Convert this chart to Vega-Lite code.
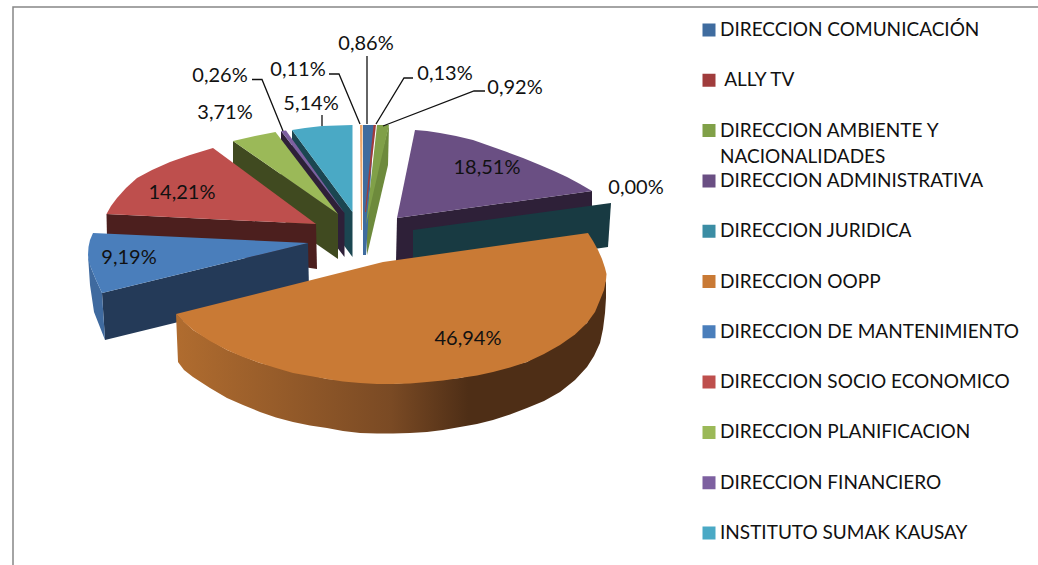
{
"$schema":"https://vega.github.io/schema/vega-lite/v6.json",
"width":1038,"height":565,"padding":0,"autosize":{"type":"none"},
"background":"white",
"config":{"view":{"stroke":null},"font":"Lato"},
"datasets":{
"walls":[
{"s":"w-sumak","i":1,"x":292,"y":130},{"s":"w-sumak","i":2,"x":352.5,"y":212},{"s":"w-sumak","i":3,"x":352.5,"y":257},{"s":"w-sumak","i":4,"x":292,"y":175},
{"s":"w-fin","i":1,"x":281,"y":131},{"s":"w-fin","i":2,"x":344.5,"y":213},{"s":"w-fin","i":3,"x":344.5,"y":257},{"s":"w-fin","i":4,"x":281,"y":175},
{"s":"w-plan","i":1,"x":233,"y":141},{"s":"w-plan","i":2,"x":338,"y":214},{"s":"w-plan","i":3,"x":338,"y":259},{"s":"w-plan","i":4,"x":233,"y":186},
{"s":"w-socio","i":1,"x":106.5,"y":214},{"s":"w-socio","i":2,"x":316,"y":224},{"s":"w-socio","i":3,"x":317,"y":269},{"s":"w-socio","i":4,"x":107,"y":238},
{"s":"w-mant","i":1,"x":102,"y":293},{"s":"w-mant","i":2,"x":308,"y":243},{"s":"w-mant","i":3,"x":309,"y":290},{"s":"w-mant","i":4,"x":105,"y":340},
{"s":"w-mant2","i":1,"x":88,"y":255},{"s":"w-mant2","i":2,"x":91,"y":268},{"s":"w-mant2","i":3,"x":96,"y":280},{"s":"w-mant2","i":4,"x":102,"y":293},{"s":"w-mant2","i":5,"x":105,"y":340},{"s":"w-mant2","i":6,"x":94,"y":312},{"s":"w-mant2","i":7,"x":90,"y":285},
{"s":"w-admin","i":1,"x":397,"y":218},{"s":"w-admin","i":2,"x":592,"y":191},{"s":"w-admin","i":3,"x":592,"y":236},{"s":"w-admin","i":4,"x":396,"y":262},
{"s":"w-jur","i":1,"x":413,"y":230},{"s":"w-jur","i":2,"x":611,"y":203},{"s":"w-jur","i":3,"x":608,"y":247},{"s":"w-jur","i":4,"x":413,"y":275},
{"s":"w-amb","i":1,"x":389,"y":125},{"s":"w-amb","i":2,"x":388,"y":165},{"s":"w-amb","i":3,"x":367,"y":255},{"s":"w-amb","i":4,"x":366,"y":213},
{"s":"w-otro","i":1,"x":360,"y":125},{"s":"w-otro","i":2,"x":362.5,"y":125},{"s":"w-otro","i":3,"x":362,"y":230},{"s":"w-otro","i":4,"x":361,"y":230}
],
"orangeWall":[
{"i":1,"x":176,"y":314},{"i":2,"x":193,"y":330},{"i":3,"x":227,"y":350},{"i":4,"x":260,"y":363},{"i":5,"x":327,"y":379},{"i":6,"x":393,"y":384},{"i":7,"x":460,"y":378},{"i":8,"x":527,"y":362},{"i":9,"x":587,"y":323},{"i":10,"x":606,"y":280},
{"i":11,"x":606,"y":298},{"i":12,"x":605,"y":313},{"i":13,"x":603,"y":329},{"i":14,"x":600,"y":343},{"i":15,"x":594,"y":356},{"i":16,"x":587,"y":367},{"i":17,"x":575,"y":380},{"i":18,"x":560,"y":392},{"i":19,"x":544,"y":401},{"i":20,"x":527,"y":408},{"i":21,"x":510,"y":414.5},{"i":22,"x":493,"y":420},{"i":23,"x":477,"y":424},{"i":24,"x":460,"y":427},{"i":25,"x":443,"y":430},{"i":26,"x":427,"y":432},{"i":27,"x":410,"y":433},{"i":28,"x":393,"y":433.5},{"i":29,"x":377,"y":433.5},{"i":30,"x":360,"y":433},{"i":31,"x":343,"y":431},{"i":32,"x":327,"y":428},{"i":33,"x":310,"y":425.5},{"i":34,"x":293,"y":422},{"i":35,"x":276,"y":417.5},{"i":36,"x":260,"y":412},{"i":37,"x":243,"y":405},{"i":38,"x":227,"y":398},{"i":39,"x":210,"y":388},{"i":40,"x":193,"y":377},{"i":41,"x":184,"y":370},{"i":42,"x":178,"y":362}
],
"tops":[
{"s":"INSTITUTO SUMAK KAUSAY","i":1,"x":292,"y":130},{"s":"INSTITUTO SUMAK KAUSAY","i":2,"x":305,"y":128},{"s":"INSTITUTO SUMAK KAUSAY","i":3,"x":322,"y":126},{"s":"INSTITUTO SUMAK KAUSAY","i":4,"x":352.5,"y":125},{"s":"INSTITUTO SUMAK KAUSAY","i":5,"x":352.5,"y":212},
{"s":"DIRECCION FINANCIERO","i":1,"x":281,"y":131},{"s":"DIRECCION FINANCIERO","i":2,"x":286,"y":130.5},{"s":"DIRECCION FINANCIERO","i":3,"x":344.5,"y":213},
{"s":"DIRECCION PLANIFICACION","i":1,"x":233,"y":141},{"s":"DIRECCION PLANIFICACION","i":2,"x":255,"y":136},{"s":"DIRECCION PLANIFICACION","i":3,"x":275.5,"y":132},{"s":"DIRECCION PLANIFICACION","i":4,"x":338,"y":214},
{"s":"DIRECCION SOCIO ECONOMICO","i":1,"x":106.5,"y":214},{"s":"DIRECCION SOCIO ECONOMICO","i":2,"x":111,"y":206},{"s":"DIRECCION SOCIO ECONOMICO","i":3,"x":117,"y":198},{"s":"DIRECCION SOCIO ECONOMICO","i":4,"x":126,"y":188},{"s":"DIRECCION SOCIO ECONOMICO","i":5,"x":137,"y":178},{"s":"DIRECCION SOCIO ECONOMICO","i":6,"x":152,"y":170},{"s":"DIRECCION SOCIO ECONOMICO","i":7,"x":170,"y":162},{"s":"DIRECCION SOCIO ECONOMICO","i":8,"x":190,"y":155},{"s":"DIRECCION SOCIO ECONOMICO","i":9,"x":213,"y":148},{"s":"DIRECCION SOCIO ECONOMICO","i":10,"x":316,"y":224},
{"s":"DIRECCION DE MANTENIMIENTO","i":1,"x":93,"y":233},{"s":"DIRECCION DE MANTENIMIENTO","i":2,"x":90,"y":240},{"s":"DIRECCION DE MANTENIMIENTO","i":3,"x":88.5,"y":247},{"s":"DIRECCION DE MANTENIMIENTO","i":4,"x":88,"y":255},{"s":"DIRECCION DE MANTENIMIENTO","i":5,"x":89,"y":262},{"s":"DIRECCION DE MANTENIMIENTO","i":6,"x":91,"y":268},{"s":"DIRECCION DE MANTENIMIENTO","i":7,"x":96,"y":280},{"s":"DIRECCION DE MANTENIMIENTO","i":8,"x":102,"y":293},{"s":"DIRECCION DE MANTENIMIENTO","i":9,"x":308,"y":243},
{"s":"DIRECCION ADMINISTRATIVA","i":1,"x":415,"y":130},{"s":"DIRECCION ADMINISTRATIVA","i":2,"x":427,"y":131},{"s":"DIRECCION ADMINISTRATIVA","i":3,"x":440,"y":133},{"s":"DIRECCION ADMINISTRATIVA","i":4,"x":456,"y":136},{"s":"DIRECCION ADMINISTRATIVA","i":5,"x":473,"y":140},{"s":"DIRECCION ADMINISTRATIVA","i":6,"x":490,"y":146},{"s":"DIRECCION ADMINISTRATIVA","i":7,"x":507,"y":152},{"s":"DIRECCION ADMINISTRATIVA","i":8,"x":523,"y":158},{"s":"DIRECCION ADMINISTRATIVA","i":9,"x":540,"y":165},{"s":"DIRECCION ADMINISTRATIVA","i":10,"x":554,"y":171},{"s":"DIRECCION ADMINISTRATIVA","i":11,"x":567,"y":177},{"s":"DIRECCION ADMINISTRATIVA","i":12,"x":580,"y":184},{"s":"DIRECCION ADMINISTRATIVA","i":13,"x":592,"y":191},{"s":"DIRECCION ADMINISTRATIVA","i":14,"x":397,"y":218},
{"s":"DIRECCION OOPP","i":1,"x":176,"y":314},{"s":"DIRECCION OOPP","i":2,"x":383,"y":262},{"s":"DIRECCION OOPP","i":3,"x":588,"y":233},{"s":"DIRECCION OOPP","i":4,"x":593,"y":241},{"s":"DIRECCION OOPP","i":5,"x":598,"y":250},{"s":"DIRECCION OOPP","i":6,"x":602,"y":259},{"s":"DIRECCION OOPP","i":7,"x":605,"y":268},{"s":"DIRECCION OOPP","i":8,"x":606.5,"y":274},{"s":"DIRECCION OOPP","i":9,"x":606,"y":280},{"s":"DIRECCION OOPP","i":10,"x":604,"y":290},{"s":"DIRECCION OOPP","i":11,"x":600,"y":300},{"s":"DIRECCION OOPP","i":12,"x":595,"y":312},{"s":"DIRECCION OOPP","i":13,"x":587,"y":323},{"s":"DIRECCION OOPP","i":14,"x":575,"y":334.5},{"s":"DIRECCION OOPP","i":15,"x":560,"y":345},{"s":"DIRECCION OOPP","i":16,"x":544,"y":354},{"s":"DIRECCION OOPP","i":17,"x":527,"y":362},{"s":"DIRECCION OOPP","i":18,"x":510,"y":367.5},{"s":"DIRECCION OOPP","i":19,"x":493,"y":372},{"s":"DIRECCION OOPP","i":20,"x":477,"y":375.5},{"s":"DIRECCION OOPP","i":21,"x":460,"y":378},{"s":"DIRECCION OOPP","i":22,"x":443,"y":380.5},{"s":"DIRECCION OOPP","i":23,"x":427,"y":382},{"s":"DIRECCION OOPP","i":24,"x":410,"y":383.5},{"s":"DIRECCION OOPP","i":25,"x":393,"y":384},{"s":"DIRECCION OOPP","i":26,"x":377,"y":384},{"s":"DIRECCION OOPP","i":27,"x":360,"y":383},{"s":"DIRECCION OOPP","i":28,"x":343,"y":381.5},{"s":"DIRECCION OOPP","i":29,"x":327,"y":379},{"s":"DIRECCION OOPP","i":30,"x":310,"y":376},{"s":"DIRECCION OOPP","i":31,"x":293,"y":373},{"s":"DIRECCION OOPP","i":32,"x":276,"y":368},{"s":"DIRECCION OOPP","i":33,"x":260,"y":363},{"s":"DIRECCION OOPP","i":34,"x":243,"y":357},{"s":"DIRECCION OOPP","i":35,"x":227,"y":350},{"s":"DIRECCION OOPP","i":36,"x":210,"y":341},{"s":"DIRECCION OOPP","i":37,"x":193,"y":330},{"s":"DIRECCION OOPP","i":38,"x":184,"y":322},
{"s":"DIRECCION COMUNICACIÓN","i":1,"x":363,"y":125},{"s":"DIRECCION COMUNICACIÓN","i":2,"x":374,"y":125},{"s":"DIRECCION COMUNICACIÓN","i":3,"x":366,"y":255},{"s":"DIRECCION COMUNICACIÓN","i":4,"x":363,"y":255},
{"s":"\u200b\u00a0ALLY TV","i":1,"x":373.5,"y":125},{"s":"\u200b\u00a0ALLY TV","i":2,"x":376,"y":125},{"s":"\u200b\u00a0ALLY TV","i":3,"x":366,"y":212},{"s":"\u200b\u00a0ALLY TV","i":4,"x":365,"y":212},
{"s":"DIRECCION AMBIENTE Y NACIONALIDADES","i":1,"x":377,"y":125},{"s":"DIRECCION AMBIENTE Y NACIONALIDADES","i":2,"x":389,"y":125},{"s":"DIRECCION AMBIENTE Y NACIONALIDADES","i":3,"x":366,"y":225}
],
"leaders":[
{"l":"0,26","i":1,"x":252,"y":79.5},{"l":"0,26","i":2,"x":262,"y":79.5},{"l":"0,26","i":3,"x":283,"y":131},
{"l":"0,11","i":1,"x":329,"y":74},{"l":"0,11","i":2,"x":339,"y":74},{"l":"0,11","i":3,"x":360,"y":124},
{"l":"0,86","i":1,"x":367,"y":56},{"l":"0,86","i":2,"x":367,"y":124},
{"l":"0,13","i":1,"x":413,"y":78},{"l":"0,13","i":2,"x":404,"y":78},{"l":"0,13","i":3,"x":376,"y":124},
{"l":"0,92","i":1,"x":485,"y":91},{"l":"0,92","i":2,"x":474,"y":91},{"l":"0,92","i":3,"x":383,"y":126},
{"l":"5,14","i":1,"x":322,"y":115},{"l":"5,14","i":2,"x":322,"y":126}
],
"frame":[{"i":1,"x":13,"y":565},{"i":2,"x":13,"y":7},{"i":3,"x":1038,"y":7}],
"labels":[
{"t":"0,86%","x":366,"y":43.5},{"t":"0,11%","x":298,"y":69.5},{"t":"0,26%","x":220,"y":75.5},{"t":"3,71%","x":225,"y":112.5},{"t":"5,14%","x":311,"y":103.5},{"t":"0,13%","x":445,"y":73.5},{"t":"0,92%","x":515,"y":87.5},{"t":"18,51%","x":487,"y":167.5},{"t":"0,00%","x":636,"y":187.5},{"t":"14,21%","x":182,"y":192.5},{"t":"9,19%","x":129,"y":257.5},{"t":"46,94%","x":468,"y":338.5}
],
"legendText":[{"t":"NACIONALIDADES","x":720,"y":157}]
},
"layer":[
{"data":{"name":"frame"},"mark":{"type":"line","stroke":"#868686","strokeWidth":1.5},
 "encoding":{"x":{"field":"x","type":"quantitative","axis":null,"scale":{"domain":[0,1038],"nice":false,"zero":false}},
 "y":{"field":"y","type":"quantitative","axis":null,"scale":{"domain":[0,565],"reverse":true,"nice":false,"zero":false}},"order":{"field":"i"}}},
{"data":{"name":"walls"},"mark":{"type":"line","filled":true,"strokeWidth":0,"interpolate":"linear-closed"},
 "encoding":{"x":{"field":"x","type":"quantitative"},"y":{"field":"y","type":"quantitative"},"order":{"field":"i"},"detail":{"field":"s"},
 "fill":{"field":"s","type":"nominal"}}},
{"data":{"name":"orangeWall"},"mark":{"type":"line","filled":true,"strokeWidth":0,"interpolate":"linear-closed",
 "fill":{"x1":0,"y1":0,"x2":1,"y2":0,"gradient":"linear","stops":[{"offset":0,"color":"#B06C2F"},{"offset":0.5,"color":"#7A4A24"},{"offset":0.68,"color":"#4E2E16"},{"offset":1,"color":"#4E2E16"}]}},
 "encoding":{"x":{"field":"x","type":"quantitative"},"y":{"field":"y","type":"quantitative"},"order":{"field":"i"}}},
{"data":{"name":"tops"},"mark":{"type":"line","filled":true,"strokeWidth":0,"interpolate":"linear-closed"},
 "encoding":{"x":{"field":"x","type":"quantitative"},"y":{"field":"y","type":"quantitative"},"order":{"field":"i"},"detail":{"field":"s"},
 "fill":{"field":"s","type":"nominal","title":null,
  "scale":{"domain":["DIRECCION COMUNICACIÓN","\u200b\u00a0ALLY TV","DIRECCION AMBIENTE Y NACIONALIDADES","DIRECCION ADMINISTRATIVA","DIRECCION JURIDICA","DIRECCION OOPP","DIRECCION DE MANTENIMIENTO","DIRECCION SOCIO ECONOMICO","DIRECCION PLANIFICACION","DIRECCION FINANCIERO","INSTITUTO SUMAK KAUSAY","w-sumak","w-fin","w-plan","w-socio","w-mant","w-mant2","w-admin","w-jur","w-amb","w-otro"],
   "range":["#3F6C9F","#A03C3C","#80A048","#6A4F83","#3B8DA4","#C97A35","#4A7EBB","#BE4F4D","#9BB958","#7D60A0","#4AA9C5","#1B4651","#2E2038","#404A20","#4C1F1E","#243A58","#3F6A9F","#2E2038","#183A42","#6D8A3C","#EDA668"]},
  "legend":{"orient":"none","legendX":699.5,"legendY":15,"padding":0,"values":["DIRECCION COMUNICACIÓN","\u200b\u00a0ALLY TV","DIRECCION AMBIENTE Y NACIONALIDADES","DIRECCION ADMINISTRATIVA","DIRECCION JURIDICA","DIRECCION OOPP","DIRECCION DE MANTENIMIENTO","DIRECCION SOCIO ECONOMICO","DIRECCION PLANIFICACION","DIRECCION FINANCIERO","INSTITUTO SUMAK KAUSAY"],
   "symbolType":"square","symbolSize":169,"symbolStrokeWidth":0,"symbolOpacity":1,"labelFont":"Lato","labelFontSize":19,"labelColor":"#111111","labelLimit":400,"labelOffset":1.5,"clipHeight":30,"rowPadding":20.3,"columns":1,
   "labelExpr":"replace(datum.label,' NACIONALIDADES','')"}}}},
{"data":{"name":"leaders"},"mark":{"type":"line","stroke":"#111111","strokeWidth":1.3},
 "encoding":{"x":{"field":"x","type":"quantitative"},"y":{"field":"y","type":"quantitative"},"order":{"field":"i"},"detail":{"field":"l"}}},
{"data":{"name":"labels"},"mark":{"type":"text","font":"Lato","fontSize":20,"color":"#111111","align":"center","baseline":"middle"},
 "encoding":{"x":{"field":"x","type":"quantitative"},"y":{"field":"y","type":"quantitative"},"text":{"field":"t"}}},
{"data":{"name":"legendText"},"mark":{"type":"text","font":"Lato","fontSize":19,"color":"#111111","align":"left","baseline":"middle"},
 "encoding":{"x":{"field":"x","type":"quantitative"},"y":{"field":"y","type":"quantitative"},"text":{"field":"t"}}}
]
}
